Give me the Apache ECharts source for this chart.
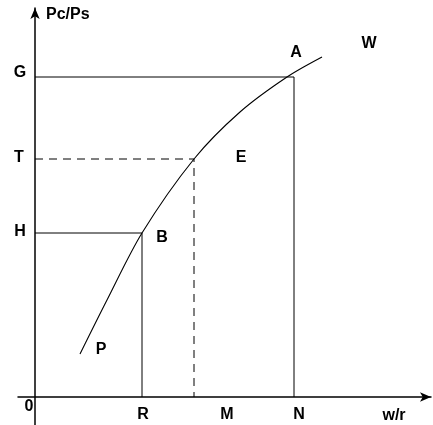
<!DOCTYPE html>
<html>
<head>
<meta charset="utf-8">
<script src="https://cdn.jsdelivr.net/npm/echarts@6/dist/echarts.min.js"></script>
<style>
html,body{margin:0;padding:0;background:#fff;}
#chart{width:433px;height:425px;}
</style>
</head>
<body>
<div id="chart"></div>
<script>
// curve W (x = w/r, y = Pc/Ps), arbitrary units
const curveX = [45, 72, 107, 159, 205, 252, 287];
const curveY = [43, 97, 164, 238, 285, 320, 340];
// key levels
const xR = 107, xM = 159, xN = 259;
const yH = 164, yT = 238, yG = 320;
// text labels
const axisTitleY = 'Pc/Ps';
const axisTitleX = 'w/r';
const levelLabels = ['G', 'T', 'H'];
const xLabels = ['0', 'R', 'M', 'N'];
const pointLabels = ['A', 'W', 'E', 'B', 'P'];

const curveData = curveX.map((x, i) => [x, curveY[i]]);
const black = '#000';
const solid = {color: black, width: 1, type: 'solid'};
const dashed = {color: black, width: 1, type: [8, 6]};

function seg(data, style) {
  return {type: 'line', data: data, symbol: 'none', lineStyle: style, silent: true, z: 3};
}

const chart = echarts.init(document.getElementById('chart'), null, {renderer: 'canvas'});
const font = {fontFamily: 'Liberation Sans', fontWeight: 'bold', fontSize: 16, fill: black};

function txt(t, x, y, align) {
  return {type: 'text', x: x, y: y, style: Object.assign({text: t, textAlign: align || 'center', textVerticalAlign: 'middle'}, font), z: 10};
}

chart.setOption({
  animation: false,
  backgroundColor: '#fff',
  grid: {left: 18, right: 2, top: 8, bottom: 0},
  xAxis: {
    type: 'value', min: -17, max: 396,
    axisLine: {onZero: true, symbol: ['none', 'arrow'], symbolSize: [7, 11], lineStyle: {color: black, width: 1.5}},
    axisTick: {show: false}, axisLabel: {show: false}, splitLine: {show: false}
  },
  yAxis: {
    type: 'value', min: -28, max: 389,
    axisLine: {onZero: true, symbol: ['none', 'arrow'], symbolSize: [7, 11], lineStyle: {color: black, width: 1.5}},
    axisTick: {show: false}, axisLabel: {show: false}, splitLine: {show: false}
  },
  series: [
    {type: 'line', data: curveData, smooth: 0.3, symbol: 'none', lineStyle: {color: black, width: 1.1}, z: 4},
    seg([[0, yG], [xN, yG], [xN, 0]], solid),
    seg([[0, yH], [xR, yH], [xR, 0]], solid),
    seg([[0, yT], [xM, yT], [xM, 0]], dashed)
  ],
  graphic: [
    txt(axisTitleY, 46, 15, 'left'),
    txt(levelLabels[0], 20, 73),
    txt(levelLabels[1], 19, 158),
    txt(levelLabels[2], 20, 232),
    txt(xLabels[0], 29, 407),
    txt(xLabels[1], 143, 415),
    txt(xLabels[2], 227, 415),
    txt(xLabels[3], 299, 415),
    txt(axisTitleX, 394, 416),
    txt(pointLabels[0], 296, 53),
    txt(pointLabels[1], 369, 44),
    txt(pointLabels[2], 241, 158),
    txt(pointLabels[3], 162, 238),
    txt(pointLabels[4], 101, 350)
  ]
});
</script>
</body>
</html>
